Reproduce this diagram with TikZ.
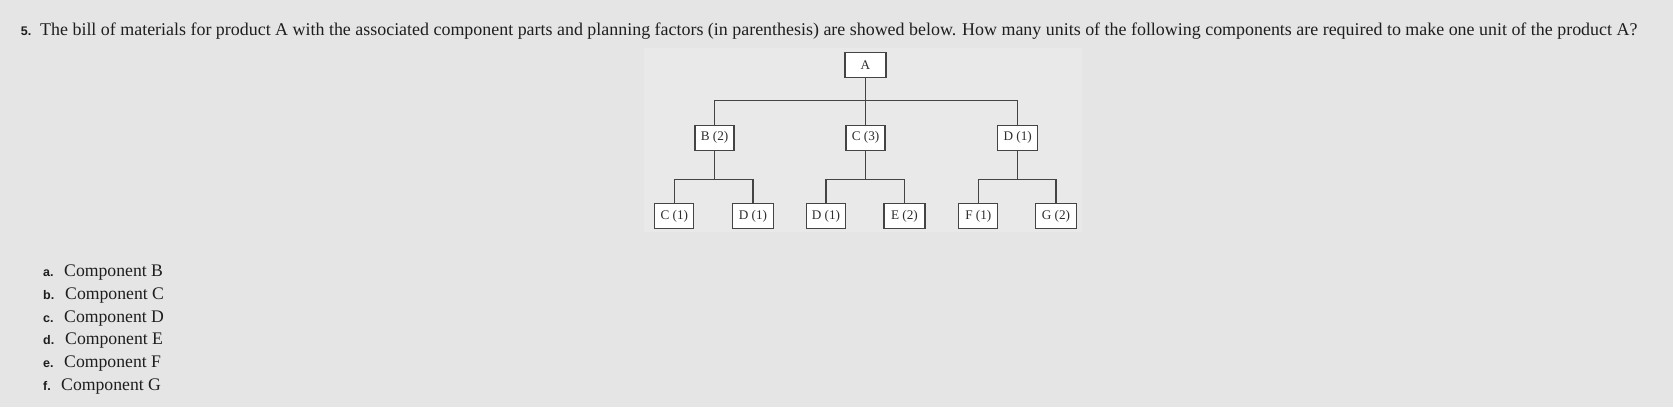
\documentclass[tikz,border=0pt]{standalone}
\usepackage{fontspec}
\setmainfont{Liberation Serif}
\newfontfamily\labfont{Liberation Sans}
\definecolor{bgc}{HTML}{E5E5E5}
\definecolor{panelc}{HTML}{E9E9E9}
\definecolor{txtc}{HTML}{1E1E1E}
\definecolor{linec}{HTML}{444444}
\definecolor{boxtxt}{HTML}{2E2E2E}
\begin{document}
\begin{tikzpicture}[x=1pt,y=-1pt,
  bom/.style={draw=linec, line width=1.1pt, fill=white, minimum width=39pt, minimum height=25pt,
     inner sep=1pt, font=\fontsize{13.2}{15}\selectfont, text=boxtxt},
  link/.style={draw=linec, line width=1.3pt},
  txt/.style={anchor=base west, inner sep=0pt, text=txtc, font=\fontsize{17.7}{20}\selectfont},
  lab/.style={anchor=base west, inner sep=0pt, text=txtc, font=\labfont\bfseries\fontsize{12.5}{14}\selectfont}]
\fill[bgc] (0,0) rectangle (1673,407);
\useasboundingbox (0,0) rectangle (1673,407);
\fill[panelc] (644,48) rectangle (1082,232);
% question
\node[lab] (q) at (20.7,35.7) {5.};
\node[txt, font=\fontsize{17.93}{20}\selectfont] (qt) at (40,35.7) {The bill of materials for product A with the associated component parts and planning factors (in parenthesis) are showed below. How many units of the following components are required to make one unit of the product A?};
% tree
\node[bom, minimum width=41pt] (A) at (865.5,64.7) {A};
\node[bom] (B) at (714.5,137.8) {B (2)};
\node[bom] (C) at (865.5,137.8) {C (3)};
\node[bom, minimum width=40pt] (D) at (1017.7,137.8) {D (1)};
\node[bom] (BC) at (674.3,216) {C (1)};
\node[bom, minimum width=41pt] (BD) at (753,216) {D (1)};
\node[bom] (CD) at (826,216) {D (1)};
\node[bom, minimum width=41pt] (CE) at (904.5,216) {E (2)};
\node[bom] (DF) at (978.3,216) {F (1)};
\node[bom, minimum width=41pt] (DG) at (1056,216) {G (2)};
\coordinate (jA) at (865.5,100.7);
\coordinate (jB) at (714.5,179.3);
\coordinate (jC) at (865.5,179.3);
\coordinate (jD) at (1017.7,179.3);
\draw[link] (A.south) -- (jA);
\draw[link] (jA) -| (B.north);
\draw[link] (jA) -- (C.north);
\draw[link] (jA) -| (D.north);
\draw[link] (B.south) -- (jB);
\draw[link] (jB) -| (BC.north);
\draw[link] (jB) -| (BD.north);
\draw[link] (C.south) -- (jC);
\draw[link] (jC) -| (CD.north);
\draw[link] (jC) -| (CE.north);
\draw[link] (D.south) -- (jD);
\draw[link] (jD) -| (DF.north);
\draw[link] (jD) -| (DG.north);
% answers
\node[lab] (la) at (43,276.7) {a.};
\node[txt] (ta) at (64,276.7) {Component B};
\node[lab] (lb) at (43,299.3) {b.};
\node[txt] (tb) at (65,299.3) {Component C};
\node[lab] (lc) at (43,322) {c.};
\node[txt] (tc) at (64,322) {Component D};
\node[lab] (ld) at (43,344.7) {d.};
\node[txt] (td) at (65,344.7) {Component E};
\node[lab] (le) at (43,367.3) {e.};
\node[txt] (te) at (64,367.3) {Component F};
\node[lab] (lf) at (43,390) {f.};
\node[txt] (tf) at (61,390) {Component G};
\end{tikzpicture}
\end{document}
